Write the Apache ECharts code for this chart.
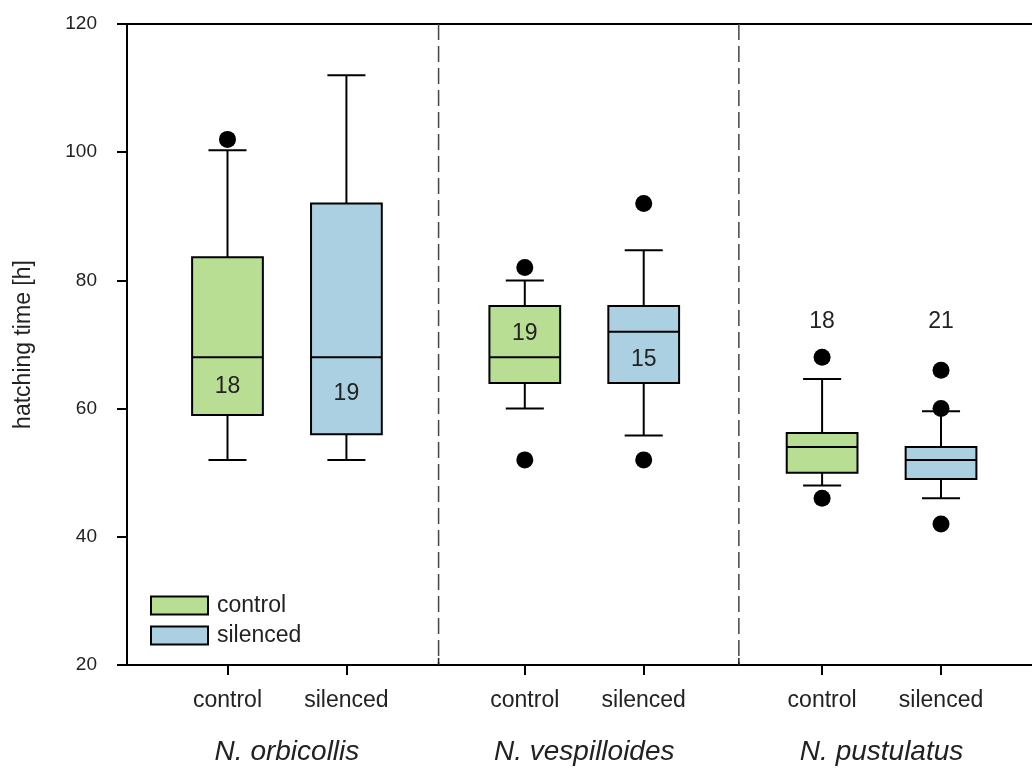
<!DOCTYPE html>
<html>
<head>
<meta charset="utf-8">
<title>Hatching time</title>
<script src="https://cdn.jsdelivr.net/npm/echarts@6/dist/echarts.min.js"></script>
<style>
  html, body { margin: 0; padding: 0; background: #fff; }
  #chart { width: 1032px; height: 771px; }
</style>
</head>
<body>
<div id="chart"></div>
<script>
// Species (groups along the x axis) and treatments within each group
const species = ['N. orbicollis', 'N. vespilloides', 'N. pustulatus'];
const treatments = ['control', 'silenced'];

// Box statistics per species: [lower whisker, Q1, median, Q3, upper whisker]
const controlBoxes = [
  [52, 59, 68, 83.6, 100.3],
  [60, 64, 68, 76, 80],
  [48, 50, 54, 56.2, 64.6]
];
const silencedBoxes = [
  [52, 56, 68, 92, 112],
  [55.8, 64, 72, 76, 84.7],
  [46, 49, 52, 54, 59.6]
];

// Outlying observations per species
const controlOutliers = [[102], [82, 52], [68, 46]];
const silencedOutliers = [[], [92, 52], [66, 60, 42]];

// Sample sizes and the height (hours) at which each one is written
const controlN = [18, 19, 18];
const silencedN = [19, 15, 21];
const controlNAt = [63.4, 71.7, 73.5];
const silencedNAt = [62.4, 67.7, 73.5];

// Y axis ticks
const yTicks = [20, 40, 60, 80, 100, 120];

// Layout in x-axis units (one unit per species group)
const OFFSET = 0.2;
const BOX_W = 0.238;
const CAP_W = 0.128;
const X_MIN = -0.538;
const X_MAX = 2.506;
const dividers = [0.51, 1.52];

const FONT = '"Liberation Sans", Arial, sans-serif';
const GREEN = '#b8de93';
const BLUE = '#abd0e2';

function boxRenderer(offset, fill) {
  return function (params, api) {
    const x = api.value(0) + offset;
    const lo = api.coord([x, api.value(1)]);
    const q1 = api.coord([x, api.value(2)]);
    const md = api.coord([x, api.value(3)]);
    const q3 = api.coord([x, api.value(4)]);
    const hi = api.coord([x, api.value(5)]);
    const bw = api.size([BOX_W, 0])[0];
    const cw = api.size([CAP_W, 0])[0];
    const cx = lo[0];
    const ls = { stroke: '#000', lineWidth: 2 };
    return {
      type: 'group',
      children: [
        { type: 'line', shape: { x1: cx, y1: hi[1], x2: cx, y2: q3[1] }, style: ls },
        { type: 'line', shape: { x1: cx, y1: q1[1], x2: cx, y2: lo[1] }, style: ls },
        { type: 'line', shape: { x1: cx - cw / 2, y1: hi[1], x2: cx + cw / 2, y2: hi[1] }, style: ls },
        { type: 'line', shape: { x1: cx - cw / 2, y1: lo[1], x2: cx + cw / 2, y2: lo[1] }, style: ls },
        { type: 'rect', shape: { x: cx - bw / 2, y: q3[1], width: bw, height: q1[1] - q3[1] },
          style: { fill: fill, stroke: '#000', lineWidth: 2 } },
        { type: 'line', shape: { x1: cx - bw / 2, y1: md[1], x2: cx + bw / 2, y2: md[1] }, style: ls }
      ]
    };
  };
}

function nRenderer(params, api) {
  const p = api.coord([api.value(0), api.value(1)]);
  return {
    type: 'text',
    x: p[0], y: p[1],
    style: {
      text: String(api.value(2)),
      fill: '#222',
      font: '23px ' + FONT,
      align: 'center',
      verticalAlign: 'middle'
    }
  };
}

// Dashed separators between species groups, with a short solid foot on the x axis
function dividerRenderer(params, api) {
  const top = api.coord([api.value(0), yTicks[yTicks.length - 1]]);
  const bottom = api.coord([api.value(0), yTicks[0]]);
  return {
    type: 'group',
    children: [
      { type: 'line', shape: { x1: top[0], y1: top[1], x2: bottom[0], y2: bottom[1] },
        style: { stroke: '#444', lineWidth: 1.5, lineDash: [16, 6] } },
      { type: 'line', shape: { x1: bottom[0], y1: bottom[1] - 7, x2: bottom[0], y2: bottom[1] },
        style: { stroke: '#222', lineWidth: 1.5 } }
    ]
  };
}

const outlierPoints = (lists, off) =>
  lists.flatMap((vals, i) => vals.map(v => [i + off, v]));

const tickPositions = [];
species.forEach((s, i) => { tickPositions.push(i - OFFSET, i + OFFSET); });

const chart = echarts.init(document.getElementById('chart'), null, { renderer: 'canvas' });

chart.setOption({
  backgroundColor: '#fff',
  animation: false,
  textStyle: { fontFamily: FONT },
  grid: { left: 127, right: 0, top: 24, bottom: 106, containLabel: false },
  legend: {
    orient: 'vertical',
    left: 145,
    top: 589,
    icon: 'rect',
    itemWidth: 57,
    itemHeight: 18,
    itemGap: 7,
    textStyle: { fontSize: 23, color: '#222', fontFamily: FONT, padding: [0, 0, 0, 4] },
    data: [
      { name: treatments[0], itemStyle: { color: GREEN, borderColor: '#000', borderWidth: 2 } },
      { name: treatments[1], itemStyle: { color: BLUE, borderColor: '#000', borderWidth: 2 } }
    ]
  },
  xAxis: [
    {
      type: 'value', position: 'bottom', min: X_MIN, max: X_MAX,
      splitLine: { show: false },
      axisLine: { show: true, onZero: false, lineStyle: { color: '#000', width: 2 } },
      axisTick: { show: true, customValues: tickPositions, length: 10, lineStyle: { color: '#000', width: 2 } },
      axisLabel: {
        show: true, customValues: tickPositions, margin: 24,
        fontSize: 23, color: '#222', fontFamily: FONT,
        formatter: v => (v - Math.round(v) < 0 ? treatments[0] : treatments[1])
      }
    },
    {
      type: 'value', position: 'bottom', min: X_MIN, max: X_MAX,
      splitLine: { show: false },
      axisLine: { show: false },
      axisTick: { show: false },
      axisLabel: {
        show: true, customValues: species.map((s, i) => i), margin: 73,
        fontSize: 28, fontStyle: 'italic', color: '#222', fontFamily: FONT,
        formatter: v => species[Math.round(v)]
      }
    },
    {
      type: 'value', position: 'top', min: X_MIN, max: X_MAX,
      splitLine: { show: false },
      axisLine: { show: true, onZero: false, lineStyle: { color: '#000', width: 2 } },
      axisTick: { show: false },
      axisLabel: { show: false }
    }
  ],
  yAxis: {
    type: 'value', min: yTicks[0], max: yTicks[yTicks.length - 1], interval: 20,
    splitLine: { show: false },
    axisLine: { show: true, onZero: false, lineStyle: { color: '#000', width: 2 } },
    axisTick: { show: true, length: 10, lineStyle: { color: '#000', width: 2 } },
    axisLabel: { margin: 30, fontSize: 19, color: '#222', fontFamily: FONT },
    name: 'hatching time [h]',
    nameLocation: 'middle',
    nameRotate: 90,
    nameGap: 92,
    nameTextStyle: { fontSize: 23, color: '#222', fontFamily: FONT }
  },
  series: [
    {
      name: 'divider', type: 'custom', renderItem: dividerRenderer,
      data: dividers.map(d => [d]), encode: { x: 0 }, silent: true, z: 1
    },
    {
      name: treatments[0], type: 'custom', renderItem: boxRenderer(-OFFSET, GREEN),
      itemStyle: { color: GREEN },
      data: controlBoxes.map((b, i) => [i].concat(b)),
      encode: { x: 0, y: [1, 2, 3, 4, 5] }, z: 2
    },
    {
      name: treatments[1], type: 'custom', renderItem: boxRenderer(OFFSET, BLUE),
      itemStyle: { color: BLUE },
      data: silencedBoxes.map((b, i) => [i].concat(b)),
      encode: { x: 0, y: [1, 2, 3, 4, 5] }, z: 2
    },
    {
      name: 'outliers', type: 'scatter', symbol: 'circle', symbolSize: 17,
      itemStyle: { color: '#000', opacity: 1 },
      data: outlierPoints(controlOutliers, -OFFSET).concat(outlierPoints(silencedOutliers, OFFSET)),
      z: 4
    },
    {
      name: 'n', type: 'custom', renderItem: nRenderer,
      data: controlN.map((n, i) => [i - OFFSET, controlNAt[i], n])
        .concat(silencedN.map((n, i) => [i + OFFSET, silencedNAt[i], n])),
      encode: { x: 0, y: 1 }, z: 5
    }
  ]
});
</script>
</body>
</html>
